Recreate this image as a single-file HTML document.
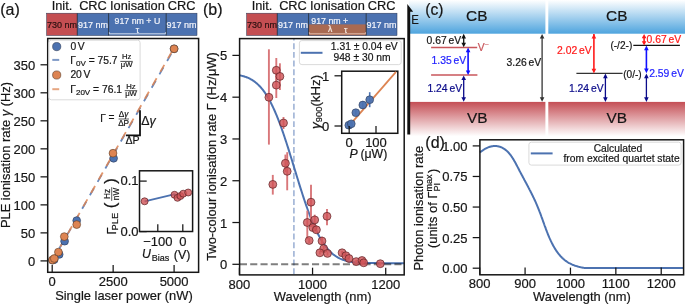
<!DOCTYPE html>
<html><head><meta charset="utf-8"><style>html,body{margin:0;padding:0;background:#fff;overflow:hidden}svg{display:block;will-change:transform}text{font-family:"Liberation Sans",sans-serif}</style></head>
<body><svg width="685" height="305" viewBox="0 0 685 305">
<rect width="685" height="305" fill="#fff"/>
<rect x="46.60" y="13.20" width="30.70" height="22.30" fill="#C44E52" />
<rect x="77.30" y="13.20" width="31.30" height="22.30" fill="#4C72B0" />
<rect x="108.60" y="13.20" width="57.60" height="22.30" fill="#4C72B0" />
<rect x="166.20" y="13.20" width="30.80" height="22.30" fill="#4C72B0" />
<line x1="77.30" y1="13.20" x2="77.30" y2="35.50" stroke="#1e2a3a" stroke-width="0.9" />
<line x1="108.60" y1="13.20" x2="108.60" y2="35.50" stroke="#1e2a3a" stroke-width="0.9" />
<line x1="166.20" y1="13.20" x2="166.20" y2="35.50" stroke="#1e2a3a" stroke-width="0.9" />
<rect x="46.60" y="13.2" width="150.40" height="22.3" fill="none" stroke="#2a3550" stroke-width="0.5"/>
<text x="62.00" y="10.10" font-size="12.8" text-anchor="middle" fill="#161616"  stroke="#161616" stroke-width="0.2">Init.</text>
<text x="93.00" y="10.10" font-size="12.8" text-anchor="middle" fill="#161616"  stroke="#161616" stroke-width="0.2">CRC</text>
<text x="137.40" y="10.10" font-size="12.8" text-anchor="middle" fill="#161616"  stroke="#161616" stroke-width="0.2">Ionisation</text>
<text x="181.60" y="10.10" font-size="12.8" text-anchor="middle" fill="#161616"  stroke="#161616" stroke-width="0.2">CRC</text>
<text x="62.00" y="27.80" font-size="9" text-anchor="middle" fill="#2a1010"  stroke="#2a1010" stroke-width="0.2">730 nm</text>
<text x="93.00" y="27.80" font-size="9" text-anchor="middle" fill="#f2f4fa"  stroke="#f2f4fa" stroke-width="0.2">917 nm</text>
<text x="181.60" y="27.80" font-size="9" text-anchor="middle" fill="#f2f4fa"  stroke="#f2f4fa" stroke-width="0.2">917 nm</text>
<text x="137.40" y="23.80" font-size="8.8" text-anchor="middle" fill="#f2f4fa"  stroke="#f2f4fa" stroke-width="0.2">917 nm + U</text>
<text x="137.40" y="32.90" font-size="8.6" text-anchor="middle" fill="#f2f4fa"  stroke="#f2f4fa" stroke-width="0.2">τ</text>
<line x1="109.20" y1="33.80" x2="165.60" y2="33.80" stroke="#dfe6f3" stroke-width="0.9" />
<line x1="109.40" y1="32.20" x2="109.40" y2="33.80" stroke="#dfe6f3" stroke-width="0.8" />
<line x1="165.40" y1="32.20" x2="165.40" y2="33.80" stroke="#dfe6f3" stroke-width="0.8" />
<rect x="246.60" y="13.20" width="30.70" height="22.30" fill="#C44E52" />
<rect x="277.30" y="13.20" width="31.30" height="22.30" fill="#4C72B0" />
<rect x="308.60" y="13.20" width="57.60" height="22.30" fill="#4C72B0" />
<rect x="366.20" y="13.20" width="30.80" height="22.30" fill="#4C72B0" />
<rect x="308.60" y="24.40" width="57.60" height="11.10" fill="#A96A52" />
<line x1="277.30" y1="13.20" x2="277.30" y2="35.50" stroke="#1e2a3a" stroke-width="0.9" />
<line x1="308.60" y1="13.20" x2="308.60" y2="35.50" stroke="#1e2a3a" stroke-width="0.9" />
<line x1="366.20" y1="13.20" x2="366.20" y2="35.50" stroke="#1e2a3a" stroke-width="0.9" />
<rect x="246.60" y="13.2" width="150.40" height="22.3" fill="none" stroke="#2a3550" stroke-width="0.5"/>
<text x="262.00" y="10.10" font-size="12.8" text-anchor="middle" fill="#161616"  stroke="#161616" stroke-width="0.2">Init.</text>
<text x="293.00" y="10.10" font-size="12.8" text-anchor="middle" fill="#161616"  stroke="#161616" stroke-width="0.2">CRC</text>
<text x="337.40" y="10.10" font-size="12.8" text-anchor="middle" fill="#161616"  stroke="#161616" stroke-width="0.2">Ionisation</text>
<text x="381.60" y="10.10" font-size="12.8" text-anchor="middle" fill="#161616"  stroke="#161616" stroke-width="0.2">CRC</text>
<text x="262.00" y="27.80" font-size="9" text-anchor="middle" fill="#2a1010"  stroke="#2a1010" stroke-width="0.2">730 nm</text>
<text x="293.00" y="27.80" font-size="9" text-anchor="middle" fill="#f2f4fa"  stroke="#f2f4fa" stroke-width="0.2">917 nm</text>
<text x="381.60" y="27.80" font-size="9" text-anchor="middle" fill="#f2f4fa"  stroke="#f2f4fa" stroke-width="0.2">917 nm</text>
<text x="329.80" y="23.80" font-size="8.8" text-anchor="middle" fill="#f2f4fa"  stroke="#f2f4fa" stroke-width="0.2">917 nm +</text>
<text x="330.20" y="31.60" font-size="8.5" text-anchor="middle" fill="#f7ece6"  stroke="#f7ece6" stroke-width="0.2">λ</text>
<text x="345.80" y="33.00" font-size="8.6" text-anchor="middle" fill="#f7ece6"  stroke="#f7ece6" stroke-width="0.2">τ</text>
<line x1="309.20" y1="33.80" x2="365.60" y2="33.80" stroke="#e8c3b3" stroke-width="0.9" />
<line x1="309.40" y1="32.20" x2="309.40" y2="33.80" stroke="#e8c3b3" stroke-width="0.8" />
<line x1="365.40" y1="32.20" x2="365.40" y2="33.80" stroke="#e8c3b3" stroke-width="0.8" />
<text x="0.20" y="14.60" font-size="16" text-anchor="start" fill="#161616"  stroke="#161616" stroke-width="0.2">(a)</text>
<line x1="52.20" y1="260.90" x2="174.10" y2="48.83" stroke="#4C72B0" stroke-width="1.8" stroke-dasharray="8.1 7.4" stroke-dashoffset="1.85" stroke-opacity="0.85"/>
<line x1="52.20" y1="260.90" x2="174.10" y2="47.71" stroke="#DD8452" stroke-width="1.8" stroke-dasharray="8.1 7.4" stroke-dashoffset="-0.75" stroke-opacity="0.85"/>
<circle cx="52.60" cy="260.20" r="3.9" fill="#4C72B0" stroke="#2d3b55" stroke-width="0.6" />
<circle cx="54.20" cy="259.60" r="3.9" fill="#4C72B0" stroke="#2d3b55" stroke-width="0.6" />
<circle cx="59.20" cy="254.40" r="3.9" fill="#4C72B0" stroke="#2d3b55" stroke-width="0.6" />
<circle cx="64.60" cy="241.20" r="3.9" fill="#4C72B0" stroke="#2d3b55" stroke-width="0.6" />
<circle cx="76.70" cy="220.60" r="3.9" fill="#4C72B0" stroke="#2d3b55" stroke-width="0.6" />
<circle cx="113.60" cy="158.30" r="3.9" fill="#4C72B0" stroke="#2d3b55" stroke-width="0.6" />
<circle cx="174.10" cy="48.80" r="3.9" fill="#4C72B0" stroke="#2d3b55" stroke-width="0.6" />
<circle cx="52.40" cy="260.00" r="3.9" fill="#DD8452" stroke="#5a3a25" stroke-width="0.6" />
<circle cx="54.30" cy="258.50" r="3.9" fill="#DD8452" stroke="#5a3a25" stroke-width="0.6" />
<circle cx="58.40" cy="252.10" r="3.9" fill="#DD8452" stroke="#5a3a25" stroke-width="0.6" />
<circle cx="64.30" cy="236.60" r="3.9" fill="#DD8452" stroke="#5a3a25" stroke-width="0.6" />
<circle cx="76.70" cy="224.60" r="3.9" fill="#DD8452" stroke="#5a3a25" stroke-width="0.6" />
<circle cx="113.00" cy="153.20" r="3.9" fill="#DD8452" stroke="#5a3a25" stroke-width="0.6" />
<circle cx="174.10" cy="48.80" r="3.9" fill="#DD8452" stroke="#5a3a25" stroke-width="0.6" />
<polyline points="140,110.2 140,135.3 126.0,135.3" fill="none" stroke="#111" stroke-width="1.8"/>
<text x="141.30" y="125.20" font-size="12.3" text-anchor="start" fill="#161616"  stroke="#161616" stroke-width="0.2">Δ<tspan font-style="italic">γ</tspan></text>
<text x="125.40" y="144.00" font-size="10.6" text-anchor="start" fill="#161616"  stroke="#161616" stroke-width="0.2">ΔP</text>
<text x="100.30" y="121.60" font-size="10.2" text-anchor="start" fill="#161616"  stroke="#161616" stroke-width="0.2">Γ</text>
<text x="108.40" y="121.40" font-size="10.2" text-anchor="start" fill="#161616"  stroke="#161616" stroke-width="0.2">=</text>
<text x="123.60" y="116.90" font-size="8.2" text-anchor="middle" fill="#161616"  stroke="#161616" stroke-width="0.2">Δ<tspan font-style="italic">γ</tspan></text>
<line x1="118.60" y1="119.00" x2="129.00" y2="119.00" stroke="#161616" stroke-width="0.7" />
<text x="123.60" y="125.70" font-size="8.2" text-anchor="middle" fill="#161616"  stroke="#161616" stroke-width="0.2">ΔP</text>
<rect x="47.7" y="38.5" width="150.89999999999998" height="233.8" fill="none" stroke="#161616" stroke-width="1.5"/>
<line x1="40.50" y1="260.90" x2="47.70" y2="260.90" stroke="#161616" stroke-width="1.25" />
<text x="35.30" y="265.90" font-size="13" text-anchor="end" fill="#161616"  stroke="#161616" stroke-width="0.2">0</text>
<line x1="40.50" y1="232.88" x2="47.70" y2="232.88" stroke="#161616" stroke-width="1.25" />
<text x="35.30" y="237.88" font-size="13" text-anchor="end" fill="#161616"  stroke="#161616" stroke-width="0.2">50</text>
<line x1="40.50" y1="204.87" x2="47.70" y2="204.87" stroke="#161616" stroke-width="1.25" />
<text x="35.30" y="209.87" font-size="13" text-anchor="end" fill="#161616"  stroke="#161616" stroke-width="0.2">100</text>
<line x1="40.50" y1="176.85" x2="47.70" y2="176.85" stroke="#161616" stroke-width="1.25" />
<text x="35.30" y="181.85" font-size="13" text-anchor="end" fill="#161616"  stroke="#161616" stroke-width="0.2">150</text>
<line x1="40.50" y1="148.84" x2="47.70" y2="148.84" stroke="#161616" stroke-width="1.25" />
<text x="35.30" y="153.84" font-size="13" text-anchor="end" fill="#161616"  stroke="#161616" stroke-width="0.2">200</text>
<line x1="40.50" y1="120.82" x2="47.70" y2="120.82" stroke="#161616" stroke-width="1.25" />
<text x="35.30" y="125.82" font-size="13" text-anchor="end" fill="#161616"  stroke="#161616" stroke-width="0.2">250</text>
<line x1="40.50" y1="92.81" x2="47.70" y2="92.81" stroke="#161616" stroke-width="1.25" />
<text x="35.30" y="97.81" font-size="13" text-anchor="end" fill="#161616"  stroke="#161616" stroke-width="0.2">300</text>
<line x1="40.50" y1="64.79" x2="47.70" y2="64.79" stroke="#161616" stroke-width="1.25" />
<text x="35.30" y="69.79" font-size="13" text-anchor="end" fill="#161616"  stroke="#161616" stroke-width="0.2">350</text>
<line x1="52.20" y1="272.30" x2="52.20" y2="265.10" stroke="#161616" stroke-width="1.25" />
<text x="52.20" y="285.90" font-size="13" text-anchor="middle" fill="#161616"  stroke="#161616" stroke-width="0.2">0</text>
<line x1="113.15" y1="272.30" x2="113.15" y2="265.10" stroke="#161616" stroke-width="1.25" />
<text x="113.15" y="285.90" font-size="13" text-anchor="middle" fill="#161616"  stroke="#161616" stroke-width="0.2">2500</text>
<line x1="174.10" y1="272.30" x2="174.10" y2="265.10" stroke="#161616" stroke-width="1.25" />
<text x="174.10" y="285.90" font-size="13" text-anchor="middle" fill="#161616"  stroke="#161616" stroke-width="0.2">5000</text>
<text x="123.95" y="299.80" font-size="12.9" text-anchor="middle" fill="#161616"  stroke="#161616" stroke-width="0.2">Single laser power (nW)</text>
<text transform="translate(9.6,155.0) rotate(-90)" font-size="12.9" text-anchor="middle" fill="#161616" stroke="#161616" stroke-width="0.2">PLE ionisation rate <tspan font-style="italic">γ</tspan> (Hz)</text>
<rect x="48.9" y="40.2" width="91.2" height="59.6" rx="2.5" fill="#fff" fill-opacity="0.85" stroke="#d6d6d6" stroke-width="0.9"/>
<circle cx="56.70" cy="46.60" r="4.1" fill="#4C72B0" stroke="#2d3b55" stroke-width="0.6" />
<text x="70.40" y="49.80" font-size="10.3" text-anchor="start" fill="#161616"  stroke="#161616" stroke-width="0.2">0<tspan dx="1.6">V</tspan></text>
<line x1="52.30" y1="59.90" x2="59.20" y2="59.90" stroke="#4C72B0" stroke-width="2" stroke-opacity="0.72"/>
<text x="70.30" y="63.60" font-size="10.3" text-anchor="start" fill="#161616"  stroke="#161616" stroke-width="0.2">Γ<tspan font-size="8" dy="2.2">0V</tspan><tspan dy="-2.2"> = 75.7</tspan></text>
<text x="126.60" y="59.20" font-size="7.7" text-anchor="middle" fill="#161616"  stroke="#161616" stroke-width="0.2">Hz</text>
<line x1="120.30" y1="61.40" x2="132.80" y2="61.40" stroke="#161616" stroke-width="0.75" />
<text x="126.60" y="66.70" font-size="7.7" text-anchor="middle" fill="#161616"  stroke="#161616" stroke-width="0.2">μW</text>
<circle cx="56.70" cy="75.00" r="4.1" fill="#DD8452" stroke="#5a3a25" stroke-width="0.6" />
<text x="70.40" y="78.40" font-size="10.3" text-anchor="start" fill="#161616"  stroke="#161616" stroke-width="0.2">20<tspan dx="1.6">V</tspan></text>
<line x1="52.30" y1="89.20" x2="59.20" y2="89.20" stroke="#DD8452" stroke-width="2" stroke-opacity="0.72"/>
<text x="70.30" y="92.90" font-size="10.3" text-anchor="start" fill="#161616"  stroke="#161616" stroke-width="0.2">Γ<tspan font-size="8" dy="2.2">20V</tspan><tspan dy="-2.2"> = 76.1</tspan></text>
<text x="131.00" y="88.50" font-size="7.7" text-anchor="middle" fill="#161616"  stroke="#161616" stroke-width="0.2">Hz</text>
<line x1="124.70" y1="90.70" x2="137.20" y2="90.70" stroke="#161616" stroke-width="0.75" />
<text x="131.00" y="96.00" font-size="7.7" text-anchor="middle" fill="#161616"  stroke="#161616" stroke-width="0.2">μW</text>
<rect x="139.5" y="170.8" width="53.099999999999994" height="60.69999999999999" fill="#fff" stroke="#161616" stroke-width="1.5"/>
<line x1="144.60" y1="201.30" x2="175.00" y2="194.20" stroke="#4C72B0" stroke-width="1.8" />
<circle cx="144.60" cy="201.30" r="3.5" fill="#cf5256" stroke="#5a2022" stroke-width="0.7" fill-opacity="0.8"/>
<circle cx="174.50" cy="194.80" r="3.5" fill="#cf5256" stroke="#5a2022" stroke-width="0.7" fill-opacity="0.8"/>
<circle cx="177.50" cy="197.80" r="3.5" fill="#cf5256" stroke="#5a2022" stroke-width="0.7" fill-opacity="0.8"/>
<circle cx="180.40" cy="196.00" r="3.5" fill="#cf5256" stroke="#5a2022" stroke-width="0.7" fill-opacity="0.8"/>
<circle cx="183.20" cy="193.70" r="3.5" fill="#cf5256" stroke="#5a2022" stroke-width="0.7" fill-opacity="0.8"/>
<circle cx="188.20" cy="192.50" r="3.5" fill="#cf5256" stroke="#5a2022" stroke-width="0.7" fill-opacity="0.8"/>
<line x1="139.50" y1="181.10" x2="146.70" y2="181.10" stroke="#161616" stroke-width="1.25" />
<text x="138.60" y="185.40" font-size="13" text-anchor="end" fill="#161616"  stroke="#161616" stroke-width="0.2">0.1</text>
<line x1="139.50" y1="231.60" x2="146.70" y2="231.60" stroke="#161616" stroke-width="1.25" />
<text x="138.60" y="235.90" font-size="13" text-anchor="end" fill="#161616"  stroke="#161616" stroke-width="0.2">0.0</text>
<line x1="157.80" y1="231.50" x2="157.80" y2="224.30" stroke="#161616" stroke-width="1.25" />
<text x="157.80" y="245.80" font-size="13" text-anchor="middle" fill="#161616"  stroke="#161616" stroke-width="0.2">−100</text>
<line x1="182.80" y1="231.50" x2="182.80" y2="224.30" stroke="#161616" stroke-width="1.25" />
<text x="182.80" y="245.80" font-size="13" text-anchor="middle" fill="#161616"  stroke="#161616" stroke-width="0.2">0</text>
<text x="142.00" y="257.80" font-size="12.3" text-anchor="start" fill="#161616" font-style="italic" stroke="#161616" stroke-width="0.2">U</text>
<text x="151.80" y="260.60" font-size="9" text-anchor="start" fill="#161616"  stroke="#161616" stroke-width="0.2">Bias</text>
<text x="173.80" y="258.50" font-size="12.3" text-anchor="start" fill="#161616" textLength="16.6" lengthAdjust="spacingAndGlyphs" stroke="#161616" stroke-width="0.2">(V)</text>
<text transform="translate(115.50,234.60) rotate(-90)" font-size="12.8" text-anchor="start" fill="#161616"  stroke="#161616" stroke-width="0.2">Γ</text>
<text transform="translate(118.00,230.50) rotate(-90)" font-size="9.0" text-anchor="start" fill="#161616" textLength="17.6" lengthAdjust="spacingAndGlyphs" stroke="#161616" stroke-width="0.2">PLE</text>
<text transform="translate(116.40,208.30) rotate(-90)" font-size="17" text-anchor="start" fill="#161616"  stroke="#161616" stroke-width="0.2">(</text>
<text transform="translate(116.40,178.20) rotate(-90)" font-size="17" text-anchor="end" fill="#161616"  stroke="#161616" stroke-width="0.2">)</text>
<text transform="translate(109.70,194.00) rotate(-90)" font-size="8.2" text-anchor="middle" fill="#161616"  stroke="#161616" stroke-width="0.2">Hz</text>
<line x1="111.70" y1="187.20" x2="111.70" y2="200.90" stroke="#161616" stroke-width="0.7" />
<text transform="translate(118.80,194.00) rotate(-90)" font-size="8.2" text-anchor="middle" fill="#161616"  stroke="#161616" stroke-width="0.2">nW</text>
<text x="203.00" y="14.80" font-size="16" text-anchor="start" fill="#161616"  stroke="#161616" stroke-width="0.2">(b)</text>
<line x1="293.90" y1="38.60" x2="293.90" y2="274.90" stroke="#9fb3d6" stroke-width="1.6" stroke-dasharray="5.9 2.75" stroke-dashoffset="3.95"/>
<path d="M239.40,75.27 L239.95,75.37 L240.50,75.49 L241.05,75.61 L241.60,75.74 L242.15,75.87 L242.70,76.02 L243.25,76.17 L243.80,76.33 L244.35,76.50 L244.91,76.67 L245.46,76.86 L246.01,77.05 L246.56,77.26 L247.11,77.47 L247.66,77.70 L248.21,77.94 L248.76,78.19 L249.31,78.45 L249.86,78.72 L250.41,79.01 L250.96,79.31 L251.51,79.63 L252.06,79.95 L252.61,80.30 L253.16,80.65 L253.71,81.03 L254.26,81.42 L254.81,81.82 L255.37,82.25 L255.92,82.69 L256.47,83.15 L257.02,83.62 L257.57,84.12 L258.12,84.63 L258.67,85.17 L259.22,85.72 L259.77,86.29 L260.32,86.89 L260.87,87.51 L261.42,88.15 L261.97,88.81 L262.52,89.49 L263.07,90.20 L263.62,90.93 L264.17,91.68 L264.72,92.45 L265.28,93.26 L265.83,94.08 L266.38,94.93 L266.93,95.81 L267.48,96.71 L268.03,97.63 L268.58,98.58 L269.13,99.56 L269.68,100.56 L270.23,101.59 L270.78,102.65 L271.33,103.73 L271.88,104.83 L272.43,105.97 L272.98,107.12 L273.53,108.31 L274.08,109.52 L274.63,110.75 L275.18,112.02 L275.74,113.30 L276.29,114.61 L276.84,115.95 L277.39,117.31 L277.94,118.70 L278.49,120.11 L279.04,121.54 L279.59,122.99 L280.14,124.47 L280.69,125.97 L281.24,127.49 L281.79,129.03 L282.34,130.60 L282.89,132.18 L283.44,133.78 L283.99,135.40 L284.54,137.03 L285.09,138.69 L285.64,140.35 L286.20,142.04 L286.75,143.74 L287.30,145.45 L287.85,147.17 L288.40,148.91 L288.95,150.66 L289.50,152.41 L290.05,154.18 L290.60,155.95 L291.15,157.74 L291.70,159.52 L292.25,161.31 L292.80,163.11 L293.35,164.91 L293.90,166.71 L294.45,168.51 L295.00,170.31 L295.55,172.11 L296.11,173.91 L296.66,175.71 L297.21,177.50 L297.76,179.29 L298.31,181.07 L298.86,182.84 L299.41,184.60 L299.96,186.36 L300.51,188.10 L301.06,189.84 L301.61,191.56 L302.16,193.27 L302.71,194.97 L303.26,196.65 L303.81,198.32 L304.36,199.97 L304.91,201.60 L305.46,203.22 L306.01,204.82 L306.57,206.40 L307.12,207.96 L307.67,209.49 L308.22,211.01 L308.77,212.51 L309.32,213.98 L309.87,215.44 L310.42,216.86 L310.97,218.27 L311.52,219.65 L312.07,221.01 L312.62,222.34 L313.17,223.65 L313.72,224.94 L314.27,226.19 L314.82,227.43 L315.37,228.63 L315.92,229.81 L316.47,230.97 L317.03,232.10 L317.58,233.20 L318.13,234.28 L318.68,235.33 L319.23,236.35 L319.78,237.35 L320.33,238.33 L320.88,239.27 L321.43,240.20 L321.98,241.09 L322.53,241.96 L323.08,242.81 L323.63,243.63 L324.18,244.43 L324.73,245.20 L325.28,245.95 L325.83,246.68 L326.38,247.38 L326.94,248.06 L327.49,248.72 L328.04,249.36 L328.59,249.97 L329.14,250.56 L329.69,251.14 L330.24,251.69 L330.79,252.22 L331.34,252.73 L331.89,253.22 L332.44,253.70 L332.99,254.15 L333.54,254.59 L334.09,255.01 L334.64,255.42 L335.19,255.80 L335.74,256.17 L336.29,256.53 L336.84,256.87 L337.40,257.20 L337.95,257.51 L338.50,257.81 L339.05,258.09 L339.60,258.37 L340.15,258.63 L340.70,258.87 L341.25,259.11 L341.80,259.33 L342.35,259.55 L342.90,259.75 L343.45,259.95 L344.00,260.13 L344.55,260.31 L345.10,260.47 L345.65,260.63 L346.20,260.78 L346.75,260.92 L347.30,261.06 L347.86,261.19 L348.41,261.31 L348.96,261.42 L349.51,261.53 L350.06,261.63 L350.61,261.73 L351.16,261.82 L351.71,261.90 L352.26,261.98 L352.81,262.06 L353.36,262.13 L353.91,262.20 L354.46,262.26 L355.01,262.32 L355.56,262.38 L356.11,262.43 L356.66,262.48 L357.21,262.53 L357.77,262.57 L358.32,262.61 L358.87,262.65 L359.42,262.68 L359.97,262.72 L360.52,262.75 L361.07,262.78 L361.62,262.80 L362.17,262.83 L362.72,262.85 L363.27,262.87 L363.82,262.90 L364.37,262.91 L364.92,262.93 L365.47,262.95 L366.02,262.96 L366.57,262.98 L367.12,262.99 L367.67,263.00 L368.23,263.01 L368.78,263.03 L369.33,263.03 L369.88,263.04 L370.43,263.05 L370.98,263.06 L371.53,263.07 L372.08,263.07 L372.63,263.08 L373.18,263.09 L373.73,263.09 L374.28,263.10 L374.83,263.10 L375.38,263.10 L375.93,263.11 L376.48,263.11 L377.03,263.11 L377.58,263.12 L378.13,263.12 L378.69,263.12 L379.24,263.12 L379.79,263.13 L380.34,263.13 L380.89,263.13 L381.44,263.13 L381.99,263.13 L382.54,263.13 L383.09,263.14 L383.64,263.14 L384.19,263.14 L384.74,263.14 L385.29,263.14 L385.84,263.14 L386.39,263.14 L386.94,263.14 L387.49,263.14 L388.04,263.14 L388.60,263.14 L389.15,263.14 L389.70,263.14 L390.25,263.14 L390.80,263.14 L391.35,263.14 L391.90,263.14 L392.45,263.14 L393.00,263.15 L393.55,263.15 L394.10,263.15 L394.65,263.15 L395.20,263.15 L395.75,263.15 L396.30,263.15 L396.85,263.15 L397.40,263.15 L397.95,263.15 L398.50,263.15 L399.06,263.15 L399.61,263.15 L400.16,263.15 L400.71,263.15 L401.26,263.15 L401.81,263.15 L402.36,263.15 L402.91,263.15 L403.46,263.15 L404.01,263.15" fill="none" stroke="#4C72B0" stroke-width="2"/>
<line x1="239.60" y1="264.30" x2="404.20" y2="264.30" stroke="#000" stroke-width="1.9" stroke-dasharray="7.1 3.2" stroke-dashoffset="-0.3" stroke-opacity="0.5"/>
<line x1="268.90" y1="49.30" x2="268.90" y2="144.60" stroke="#d9777a" stroke-width="1.9" />
<line x1="276.30" y1="58.00" x2="276.30" y2="83.00" stroke="#d9777a" stroke-width="1.9" />
<line x1="279.90" y1="63.30" x2="279.90" y2="90.00" stroke="#d9777a" stroke-width="1.9" />
<line x1="276.30" y1="72.50" x2="276.30" y2="98.00" stroke="#d9777a" stroke-width="1.9" />
<line x1="283.50" y1="117.00" x2="283.50" y2="129.00" stroke="#d9777a" stroke-width="1.9" />
<line x1="285.40" y1="154.60" x2="285.40" y2="172.00" stroke="#d9777a" stroke-width="1.9" />
<line x1="287.20" y1="152.20" x2="287.20" y2="190.30" stroke="#d9777a" stroke-width="1.9" />
<line x1="272.80" y1="174.90" x2="272.80" y2="194.60" stroke="#d9777a" stroke-width="1.9" />
<line x1="311.00" y1="184.80" x2="311.00" y2="227.00" stroke="#d9777a" stroke-width="1.9" />
<line x1="307.30" y1="210.60" x2="307.30" y2="239.30" stroke="#d9777a" stroke-width="1.9" />
<line x1="314.70" y1="214.70" x2="314.70" y2="225.50" stroke="#d9777a" stroke-width="1.9" />
<line x1="312.80" y1="224.00" x2="312.80" y2="231.00" stroke="#d9777a" stroke-width="1.9" />
<line x1="316.40" y1="226.00" x2="316.40" y2="233.00" stroke="#d9777a" stroke-width="1.9" />
<line x1="327.00" y1="208.90" x2="327.00" y2="225.30" stroke="#d9777a" stroke-width="1.9" />
<line x1="309.20" y1="238.00" x2="309.20" y2="243.00" stroke="#d9777a" stroke-width="1.9" />
<line x1="322.00" y1="236.80" x2="322.00" y2="245.00" stroke="#d9777a" stroke-width="1.9" />
<line x1="323.70" y1="246.00" x2="323.70" y2="251.00" stroke="#d9777a" stroke-width="1.9" />
<line x1="319.90" y1="251.00" x2="319.90" y2="254.50" stroke="#d9777a" stroke-width="1.9" />
<line x1="327.50" y1="251.50" x2="327.50" y2="255.50" stroke="#d9777a" stroke-width="1.9" />
<line x1="342.10" y1="251.00" x2="342.10" y2="254.50" stroke="#d9777a" stroke-width="1.9" />
<line x1="345.90" y1="254.00" x2="345.90" y2="257.50" stroke="#d9777a" stroke-width="1.9" />
<line x1="349.00" y1="257.00" x2="349.00" y2="260.00" stroke="#d9777a" stroke-width="1.9" />
<line x1="356.20" y1="260.00" x2="356.20" y2="263.00" stroke="#d9777a" stroke-width="1.9" />
<line x1="362.00" y1="259.00" x2="362.00" y2="262.00" stroke="#d9777a" stroke-width="1.9" />
<line x1="363.70" y1="261.00" x2="363.70" y2="264.50" stroke="#d9777a" stroke-width="1.9" />
<line x1="380.30" y1="262.00" x2="380.30" y2="265.50" stroke="#d9777a" stroke-width="1.9" />
<circle cx="268.90" cy="97.30" r="3.95" fill="#cf5458" stroke="#5e2427" stroke-width="0.7" fill-opacity="0.82"/>
<circle cx="276.30" cy="70.30" r="3.95" fill="#cf5458" stroke="#5e2427" stroke-width="0.7" fill-opacity="0.82"/>
<circle cx="279.90" cy="76.40" r="3.95" fill="#cf5458" stroke="#5e2427" stroke-width="0.7" fill-opacity="0.82"/>
<circle cx="276.30" cy="85.10" r="3.95" fill="#cf5458" stroke="#5e2427" stroke-width="0.7" fill-opacity="0.82"/>
<circle cx="283.50" cy="123.00" r="3.95" fill="#cf5458" stroke="#5e2427" stroke-width="0.7" fill-opacity="0.82"/>
<circle cx="285.40" cy="163.30" r="3.95" fill="#cf5458" stroke="#5e2427" stroke-width="0.7" fill-opacity="0.82"/>
<circle cx="287.20" cy="171.30" r="3.95" fill="#cf5458" stroke="#5e2427" stroke-width="0.7" fill-opacity="0.82"/>
<circle cx="272.80" cy="184.40" r="3.95" fill="#cf5458" stroke="#5e2427" stroke-width="0.7" fill-opacity="0.82"/>
<circle cx="311.00" cy="202.20" r="3.95" fill="#cf5458" stroke="#5e2427" stroke-width="0.7" fill-opacity="0.82"/>
<circle cx="307.30" cy="222.50" r="3.95" fill="#cf5458" stroke="#5e2427" stroke-width="0.7" fill-opacity="0.82"/>
<circle cx="314.70" cy="219.90" r="3.95" fill="#cf5458" stroke="#5e2427" stroke-width="0.7" fill-opacity="0.82"/>
<circle cx="312.80" cy="227.60" r="3.95" fill="#cf5458" stroke="#5e2427" stroke-width="0.7" fill-opacity="0.82"/>
<circle cx="316.40" cy="229.80" r="3.95" fill="#cf5458" stroke="#5e2427" stroke-width="0.7" fill-opacity="0.82"/>
<circle cx="327.00" cy="216.30" r="3.95" fill="#cf5458" stroke="#5e2427" stroke-width="0.7" fill-opacity="0.82"/>
<circle cx="309.20" cy="240.50" r="3.95" fill="#cf5458" stroke="#5e2427" stroke-width="0.7" fill-opacity="0.82"/>
<circle cx="322.00" cy="241.00" r="3.95" fill="#cf5458" stroke="#5e2427" stroke-width="0.7" fill-opacity="0.82"/>
<circle cx="323.70" cy="248.60" r="3.95" fill="#cf5458" stroke="#5e2427" stroke-width="0.7" fill-opacity="0.82"/>
<circle cx="319.90" cy="252.80" r="3.95" fill="#cf5458" stroke="#5e2427" stroke-width="0.7" fill-opacity="0.82"/>
<circle cx="327.50" cy="253.40" r="3.95" fill="#cf5458" stroke="#5e2427" stroke-width="0.7" fill-opacity="0.82"/>
<circle cx="342.10" cy="252.80" r="3.95" fill="#cf5458" stroke="#5e2427" stroke-width="0.7" fill-opacity="0.82"/>
<circle cx="345.90" cy="255.70" r="3.95" fill="#cf5458" stroke="#5e2427" stroke-width="0.7" fill-opacity="0.82"/>
<circle cx="349.00" cy="258.50" r="3.95" fill="#cf5458" stroke="#5e2427" stroke-width="0.7" fill-opacity="0.82"/>
<circle cx="356.20" cy="261.60" r="3.95" fill="#cf5458" stroke="#5e2427" stroke-width="0.7" fill-opacity="0.82"/>
<circle cx="362.00" cy="260.50" r="3.95" fill="#cf5458" stroke="#5e2427" stroke-width="0.7" fill-opacity="0.82"/>
<circle cx="363.70" cy="262.80" r="3.95" fill="#cf5458" stroke="#5e2427" stroke-width="0.7" fill-opacity="0.82"/>
<circle cx="380.30" cy="263.70" r="3.95" fill="#cf5458" stroke="#5e2427" stroke-width="0.7" fill-opacity="0.82"/>
<rect x="239.6" y="38.6" width="164.6" height="236.29999999999998" fill="none" stroke="#161616" stroke-width="1.5"/>
<line x1="232.40" y1="264.30" x2="239.60" y2="264.30" stroke="#161616" stroke-width="1.25" />
<text x="227.20" y="269.30" font-size="13" text-anchor="end" fill="#161616"  stroke="#161616" stroke-width="0.2">0</text>
<line x1="232.40" y1="222.52" x2="239.60" y2="222.52" stroke="#161616" stroke-width="1.25" />
<text x="227.20" y="227.52" font-size="13" text-anchor="end" fill="#161616"  stroke="#161616" stroke-width="0.2">1</text>
<line x1="232.40" y1="180.74" x2="239.60" y2="180.74" stroke="#161616" stroke-width="1.25" />
<text x="227.20" y="185.74" font-size="13" text-anchor="end" fill="#161616"  stroke="#161616" stroke-width="0.2">2</text>
<line x1="232.40" y1="138.96" x2="239.60" y2="138.96" stroke="#161616" stroke-width="1.25" />
<text x="227.20" y="143.96" font-size="13" text-anchor="end" fill="#161616"  stroke="#161616" stroke-width="0.2">3</text>
<line x1="232.40" y1="97.18" x2="239.60" y2="97.18" stroke="#161616" stroke-width="1.25" />
<text x="227.20" y="102.18" font-size="13" text-anchor="end" fill="#161616"  stroke="#161616" stroke-width="0.2">4</text>
<line x1="232.40" y1="55.40" x2="239.60" y2="55.40" stroke="#161616" stroke-width="1.25" />
<text x="227.20" y="60.40" font-size="13" text-anchor="end" fill="#161616"  stroke="#161616" stroke-width="0.2">5</text>
<line x1="239.40" y1="274.90" x2="239.40" y2="267.70" stroke="#161616" stroke-width="1.25" />
<text x="239.40" y="288.70" font-size="13" text-anchor="middle" fill="#161616"  stroke="#161616" stroke-width="0.2">800</text>
<line x1="312.56" y1="274.90" x2="312.56" y2="267.70" stroke="#161616" stroke-width="1.25" />
<text x="312.56" y="288.70" font-size="13" text-anchor="middle" fill="#161616"  stroke="#161616" stroke-width="0.2">1000</text>
<line x1="385.72" y1="274.90" x2="385.72" y2="267.70" stroke="#161616" stroke-width="1.25" />
<text x="385.72" y="288.70" font-size="13" text-anchor="middle" fill="#161616"  stroke="#161616" stroke-width="0.2">1200</text>
<text x="322.70" y="301.20" font-size="12.9" text-anchor="middle" fill="#161616"  stroke="#161616" stroke-width="0.2">Wavelength (nm)</text>
<text transform="translate(215.8,156.5) rotate(-90)" font-size="12.9" text-anchor="middle" fill="#161616" stroke="#161616" stroke-width="0.2">Two-colour ionisation rate Γ (Hz/μW)</text>
<rect x="299.4" y="40.6" width="101.8" height="24" rx="2.5" fill="#fff" fill-opacity="0.85" stroke="#d6d6d6" stroke-width="0.9"/>
<line x1="300.80" y1="52.80" x2="322.50" y2="52.80" stroke="#4C72B0" stroke-width="2" />
<text x="364.30" y="49.90" font-size="10.3" text-anchor="middle" fill="#161616"  stroke="#161616" stroke-width="0.2">1.31 ± 0.04 eV</text>
<text x="362.00" y="60.80" font-size="10.3" text-anchor="middle" fill="#161616"  stroke="#161616" stroke-width="0.2">948 ± 30 nm</text>
<rect x="341.7" y="71.2" width="56.10000000000002" height="62.10000000000001" fill="#fff" stroke="#161616" stroke-width="1.5"/>
<line x1="349.20" y1="125.70" x2="396.00" y2="71.80" stroke="#DD8452" stroke-width="1.8" />
<line x1="348.80" y1="122.20" x2="348.80" y2="128.20" stroke="#4C72B0" stroke-width="1.6" />
<line x1="351.30" y1="120.80" x2="351.30" y2="126.80" stroke="#4C72B0" stroke-width="1.6" />
<line x1="355.80" y1="109.70" x2="355.80" y2="115.70" stroke="#4C72B0" stroke-width="1.6" />
<line x1="362.80" y1="101.00" x2="362.80" y2="109.00" stroke="#4C72B0" stroke-width="1.6" />
<line x1="369.70" y1="92.20" x2="369.70" y2="107.20" stroke="#4C72B0" stroke-width="1.6" />
<circle cx="348.80" cy="125.20" r="3.9" fill="#4C72B0" stroke="#2d3b55" stroke-width="0.6" fill-opacity="0.95"/>
<circle cx="351.30" cy="123.80" r="3.9" fill="#4C72B0" stroke="#2d3b55" stroke-width="0.6" fill-opacity="0.95"/>
<circle cx="355.80" cy="112.70" r="3.9" fill="#4C72B0" stroke="#2d3b55" stroke-width="0.6" fill-opacity="0.95"/>
<circle cx="362.80" cy="105.00" r="3.9" fill="#4C72B0" stroke="#2d3b55" stroke-width="0.6" fill-opacity="0.95"/>
<circle cx="369.70" cy="99.70" r="3.9" fill="#4C72B0" stroke="#2d3b55" stroke-width="0.6" fill-opacity="0.95"/>
<line x1="334.50" y1="75.80" x2="341.70" y2="75.80" stroke="#161616" stroke-width="1.25" />
<text x="329.30" y="80.80" font-size="13" text-anchor="end" fill="#161616"  stroke="#161616" stroke-width="0.2">1</text>
<line x1="334.50" y1="126.00" x2="341.70" y2="126.00" stroke="#161616" stroke-width="1.25" />
<text x="329.30" y="131.00" font-size="13" text-anchor="end" fill="#161616"  stroke="#161616" stroke-width="0.2">0</text>
<line x1="349.20" y1="133.30" x2="349.20" y2="126.10" stroke="#161616" stroke-width="1.25" />
<text x="349.20" y="147.20" font-size="13" text-anchor="middle" fill="#161616"  stroke="#161616" stroke-width="0.2">0</text>
<line x1="376.00" y1="133.30" x2="376.00" y2="126.10" stroke="#161616" stroke-width="1.25" />
<text x="376.00" y="147.20" font-size="13" text-anchor="middle" fill="#161616"  stroke="#161616" stroke-width="0.2">100</text>
<text x="349.40" y="158.00" font-size="12.3" text-anchor="start" fill="#161616" font-style="italic" stroke="#161616" stroke-width="0.2">P</text>
<text x="360.40" y="158.00" font-size="12.3" text-anchor="start" fill="#161616"  stroke="#161616" stroke-width="0.2">(μW)</text>
<text transform="translate(319.9,128.9) rotate(-90)" font-size="13.3" fill="#161616" stroke="#161616" stroke-width="0.2"><tspan font-style="italic">γ</tspan><tspan font-size="9.4" dy="2.4">900</tspan><tspan dy="-2.4">(kHz)</tspan></text>
<defs><linearGradient id="cb" x1="0" y1="0" x2="0" y2="1"><stop offset="0" stop-color="#ffffff"/><stop offset="1" stop-color="#4ea4de"/></linearGradient><linearGradient id="vb" x1="0" y1="0" x2="0" y2="1"><stop offset="0" stop-color="#c44e55"/><stop offset="1" stop-color="#ffffff"/></linearGradient></defs>
<rect x="409.00" y="0.00" width="136.40" height="33.70" fill="url(#cb)" />
<rect x="548.30" y="0.00" width="136.70" height="33.70" fill="url(#cb)" />
<rect x="409.00" y="101.90" width="136.40" height="34.30" fill="url(#vb)" />
<rect x="548.30" y="101.90" width="136.70" height="34.30" fill="url(#vb)" />
<text x="476.80" y="20.60" font-size="15.4" text-anchor="middle" fill="#161616"  stroke="#161616" stroke-width="0.2">CB</text>
<text x="616.80" y="20.80" font-size="15.4" text-anchor="middle" fill="#161616"  stroke="#161616" stroke-width="0.2">CB</text>
<text x="477.20" y="123.30" font-size="15.4" text-anchor="middle" fill="#161616"  stroke="#161616" stroke-width="0.2">VB</text>
<text x="616.80" y="122.70" font-size="15.4" text-anchor="middle" fill="#161616"  stroke="#161616" stroke-width="0.2">VB</text>
<text x="425.30" y="15.10" font-size="15.6" text-anchor="start" fill="#161616"  stroke="#161616" stroke-width="0.2">(c)</text>
<path d="M407.3,134.4 L407.3,3.9 L413.2,11.8 L410.2,11.8 L410.2,134.4 Z" fill="#111"/>
<text transform="translate(411.2,23.6) scale(0.86,1)" font-size="13.3" fill="#161616" stroke="#161616" stroke-width="0.2">E</text>
<line x1="431.10" y1="47.40" x2="477.20" y2="47.40" stroke="#c8565b" stroke-width="1.5" />
<line x1="431.10" y1="75.10" x2="477.40" y2="75.10" stroke="#c8565b" stroke-width="1.5" />
<line x1="463.7" y1="37.48" x2="463.7" y2="43.62" stroke="#111" stroke-width="1.3"/>
<path d="M463.7,33.8 L461.4,38.4 L466.0,38.4 Z" fill="#111"/>
<path d="M463.7,47.3 L461.4,42.699999999999996 L466.0,42.699999999999996 Z" fill="#111"/>
<line x1="468.1" y1="51.28" x2="468.1" y2="71.32" stroke="#1010ff" stroke-width="1.6"/>
<path d="M468.1,47.6 L465.8,52.2 L470.40000000000003,52.2 Z" fill="#1010ff"/>
<path d="M468.1,75.0 L465.8,70.4 L470.40000000000003,70.4 Z" fill="#1010ff"/>
<line x1="463.7" y1="79.08000000000001" x2="463.7" y2="98.12" stroke="#0b0b8a" stroke-width="1.3"/>
<path d="M463.7,75.4 L461.4,80.0 L466.0,80.0 Z" fill="#0b0b8a"/>
<path d="M463.7,101.8 L461.4,97.2 L466.0,97.2 Z" fill="#0b0b8a"/>
<line x1="542.1" y1="37.58" x2="542.1" y2="98.12" stroke="#333" stroke-width="1.3"/>
<path d="M542.1,33.9 L539.8000000000001,38.5 L544.4,38.5 Z" fill="#333"/>
<path d="M542.1,101.8 L539.8000000000001,97.2 L544.4,97.2 Z" fill="#333"/>
<text x="426.60" y="43.80" font-size="10.35" text-anchor="start" fill="#161616"  stroke="#161616" stroke-width="0.2">0.67 <tspan dx="-1.0">eV</tspan></text>
<text x="477.80" y="50.90" font-size="10.3" text-anchor="start" fill="#c8565b"  stroke="#c8565b" stroke-width="0.2">V</text>
<text x="484.60" y="47.40" font-size="7.5" text-anchor="start" fill="#c8565b"  stroke="#c8565b" stroke-width="0.2">−</text>
<text x="431.60" y="63.80" font-size="10.35" text-anchor="start" fill="#1f1fff"  stroke="#1f1fff" stroke-width="0.2">1.35 <tspan dx="-1.0">eV</tspan></text>
<text x="427.40" y="91.50" font-size="10.35" text-anchor="start" fill="#0b0b8a"  stroke="#0b0b8a" stroke-width="0.2">1.24 <tspan dx="-1.0">eV</tspan></text>
<text x="506.60" y="66.00" font-size="10.35" text-anchor="start" fill="#161616"  stroke="#161616" stroke-width="0.2">3.26 <tspan dx="-1.0">eV</tspan></text>
<line x1="633.30" y1="45.40" x2="679.90" y2="45.40" stroke="#111" stroke-width="1.4" />
<line x1="576.40" y1="73.40" x2="622.60" y2="73.40" stroke="#333" stroke-width="1.4" />
<line x1="593.9" y1="34.0" x2="593.9" y2="69.72" stroke="#ff1a1a" stroke-width="1.6"/>
<path d="M593.9,73.4 L591.6,68.80000000000001 L596.1999999999999,68.80000000000001 Z" fill="#ff1a1a"/>
<path d="M593.9,34.0 L591.6,38.6 L596.2,38.6 Z" fill="#ff1a1a"/>
<line x1="644.1" y1="37.36" x2="644.1" y2="42.04" stroke="#ff1a1a" stroke-width="1.6"/>
<path d="M644.1,34.0 L641.8000000000001,38.2 L646.4,38.2 Z" fill="#ff1a1a"/>
<path d="M644.1,45.4 L641.8000000000001,41.199999999999996 L646.4,41.199999999999996 Z" fill="#ff1a1a"/>
<line x1="646.4" y1="49.28" x2="646.4" y2="69.52000000000001" stroke="#1010ff" stroke-width="1.6"/>
<path d="M646.4,45.6 L644.1,50.2 L648.6999999999999,50.2 Z" fill="#1010ff"/>
<path d="M646.4,73.2 L644.1,68.60000000000001 L648.6999999999999,68.60000000000001 Z" fill="#1010ff"/>
<line x1="646.4" y1="77.28" x2="646.4" y2="98.22" stroke="#0b0b8a" stroke-width="1.3"/>
<path d="M646.4,73.6 L644.1,78.19999999999999 L648.6999999999999,78.19999999999999 Z" fill="#0b0b8a"/>
<path d="M646.4,101.9 L644.1,97.30000000000001 L648.6999999999999,97.30000000000001 Z" fill="#0b0b8a"/>
<line x1="605.4" y1="77.28" x2="605.4" y2="98.22" stroke="#0b0b8a" stroke-width="1.3"/>
<path d="M605.4,73.6 L603.1,78.19999999999999 L607.6999999999999,78.19999999999999 Z" fill="#0b0b8a"/>
<path d="M605.4,101.9 L603.1,97.30000000000001 L607.6999999999999,97.30000000000001 Z" fill="#0b0b8a"/>
<text x="557.00" y="53.60" font-size="10.35" text-anchor="start" fill="#ff1a1a"  stroke="#ff1a1a" stroke-width="0.2">2.02 <tspan dx="-1.0">eV</tspan></text>
<text x="610.40" y="49.30" font-size="10.1" text-anchor="start" fill="#161616"  stroke="#161616" stroke-width="0.2">(-/2-)</text>
<text x="646.60" y="42.60" font-size="10.35" text-anchor="start" fill="#ff1a1a"  stroke="#ff1a1a" stroke-width="0.2">0.67 <tspan dx="-1.0">eV</tspan></text>
<text x="623.20" y="77.80" font-size="10.1" text-anchor="start" fill="#161616"  stroke="#161616" stroke-width="0.2">(0/-)</text>
<text x="649.20" y="76.80" font-size="10.35" text-anchor="start" fill="#1f1fff"  stroke="#1f1fff" stroke-width="0.2">2.59 <tspan dx="-1.0">eV</tspan></text>
<text x="568.90" y="91.70" font-size="10.35" text-anchor="start" fill="#0b0b8a"  stroke="#0b0b8a" stroke-width="0.2">1.24 <tspan dx="-1.0">eV</tspan></text>
<text x="425.30" y="148.40" font-size="16" text-anchor="start" fill="#161616"  stroke="#161616" stroke-width="0.2">(d)</text>
<path d="M479.99,152.53 L480.55,152.06 L481.11,151.60 L481.66,151.16 L482.22,150.74 L482.77,150.34 L483.32,149.96 L483.86,149.60 L484.41,149.26 L484.95,148.93 L485.49,148.63 L486.03,148.34 L486.57,148.07 L487.10,147.82 L487.63,147.58 L488.16,147.36 L488.69,147.16 L489.21,146.98 L489.73,146.81 L490.25,146.66 L490.76,146.53 L491.27,146.41 L491.78,146.30 L492.28,146.22 L492.79,146.14 L493.28,146.09 L493.78,146.05 L494.27,146.02 L494.76,146.01 L495.24,146.01 L495.72,146.03 L496.20,146.06 L496.67,146.10 L497.14,146.16 L497.61,146.23 L498.07,146.32 L498.53,146.42 L498.98,146.53 L499.43,146.65 L499.87,146.78 L500.31,146.93 L500.75,147.09 L501.18,147.26 L501.60,147.45 L502.03,147.64 L502.44,147.85 L502.85,148.07 L503.26,148.29 L503.66,148.53 L504.06,148.78 L504.45,149.04 L504.84,149.31 L505.22,149.59 L505.60,149.88 L505.97,150.18 L506.33,150.48 L506.69,150.80 L507.05,151.13 L507.40,151.46 L507.75,151.80 L508.09,152.15 L508.42,152.51 L508.75,152.87 L509.08,153.25 L509.40,153.63 L509.72,154.01 L510.04,154.41 L510.35,154.80 L510.65,155.21 L510.96,155.62 L511.25,156.04 L511.55,156.46 L511.84,156.89 L512.13,157.32 L512.42,157.76 L512.70,158.20 L512.98,158.65 L513.26,159.10 L513.53,159.55 L513.81,160.01 L514.08,160.47 L514.34,160.93 L514.61,161.40 L514.87,161.86 L515.13,162.34 L515.39,162.81 L515.65,163.28 L515.91,163.76 L516.16,164.24 L516.42,164.72 L516.67,165.20 L516.92,165.68 L517.17,166.16 L517.42,166.64 L517.67,167.12 L517.92,167.60 L518.17,168.08 L518.42,168.56 L518.66,169.04 L518.91,169.52 L519.16,169.99 L519.40,170.47 L519.65,170.94 L519.90,171.41 L520.14,171.88 L520.39,172.35 L520.64,172.82 L520.88,173.29 L521.13,173.75 L521.38,174.22 L521.62,174.68 L521.87,175.14 L522.12,175.60 L522.36,176.06 L522.61,176.52 L522.85,176.98 L523.10,177.44 L523.34,177.90 L523.59,178.36 L523.83,178.81 L524.08,179.27 L524.32,179.72 L524.56,180.18 L524.81,180.63 L525.05,181.08 L525.29,181.54 L525.53,181.99 L525.78,182.44 L526.02,182.89 L526.26,183.34 L526.50,183.79 L526.74,184.25 L526.98,184.70 L527.22,185.15 L527.46,185.60 L527.70,186.05 L527.93,186.50 L528.17,186.95 L528.41,187.40 L528.65,187.85 L528.88,188.31 L529.12,188.76 L529.35,189.21 L529.59,189.66 L529.82,190.12 L530.06,190.57 L530.29,191.02 L530.52,191.48 L530.75,191.93 L530.98,192.39 L531.21,192.84 L531.44,193.30 L531.67,193.76 L531.90,194.22 L532.13,194.68 L532.35,195.14 L532.58,195.60 L532.81,196.06 L533.03,196.52 L533.25,196.99 L533.48,197.45 L533.70,197.92 L533.92,198.38 L534.14,198.85 L534.36,199.32 L534.58,199.79 L534.80,200.27 L535.02,200.74 L535.23,201.21 L535.45,201.69 L535.67,202.17 L535.88,202.65 L536.09,203.13 L536.30,203.61 L536.52,204.10 L536.73,204.58 L536.94,205.07 L537.14,205.56 L537.35,206.05 L537.56,206.54 L537.76,207.04 L537.97,207.54 L538.17,208.04 L538.37,208.54 L538.57,209.04 L538.77,209.55 L538.97,210.05 L539.17,210.56 L539.37,211.07 L539.56,211.59 L539.76,212.10 L539.95,212.62 L540.15,213.14 L540.34,213.66 L540.54,214.18 L540.73,214.70 L540.92,215.22 L541.11,215.75 L541.30,216.27 L541.49,216.80 L541.69,217.32 L541.88,217.85 L542.07,218.38 L542.26,218.91 L542.45,219.44 L542.64,219.97 L542.83,220.51 L543.02,221.04 L543.21,221.57 L543.40,222.10 L543.59,222.64 L543.78,223.17 L543.97,223.70 L544.16,224.24 L544.36,224.77 L544.55,225.30 L544.74,225.84 L544.94,226.37 L545.13,226.90 L545.33,227.43 L545.52,227.97 L545.72,228.50 L545.92,229.03 L546.12,229.56 L546.32,230.09 L546.52,230.61 L546.72,231.14 L546.92,231.67 L547.13,232.19 L547.33,232.72 L547.54,233.24 L547.75,233.76 L547.96,234.28 L548.17,234.80 L548.38,235.32 L548.59,235.83 L548.81,236.35 L549.03,236.86 L549.24,237.37 L549.46,237.88 L549.69,238.38 L549.91,238.89 L550.14,239.39 L550.37,239.89 L550.59,240.39 L550.83,240.89 L551.06,241.38 L551.30,241.87 L551.54,242.36 L551.78,242.85 L552.02,243.33 L552.26,243.81 L552.51,244.29 L552.76,244.76 L553.01,245.23 L553.27,245.70 L553.53,246.17 L553.79,246.63 L554.05,247.09 L554.32,247.55 L554.59,248.00 L554.86,248.45 L555.13,248.90 L555.41,249.34 L555.69,249.78 L555.97,250.21 L556.26,250.64 L556.55,251.07 L556.84,251.49 L557.14,251.91 L557.44,252.33 L557.74,252.74 L558.05,253.15 L558.36,253.55 L558.67,253.95 L558.99,254.34 L559.31,254.73 L559.63,255.11 L559.96,255.49 L560.29,255.87 L560.63,256.24 L560.97,256.60 L561.31,256.96 L561.66,257.32 L562.01,257.67 L562.37,258.01 L562.73,258.35 L563.09,258.69 L563.46,259.02 L563.83,259.34 L564.21,259.66 L564.59,259.97 L564.97,260.28 L565.36,260.58 L565.76,260.87 L566.16,261.16 L566.56,261.44 L566.97,261.72 L567.38,261.99 L567.80,262.26 L568.23,262.52 L568.65,262.77 L569.09,263.01 L569.52,263.25 L569.97,263.49 L570.41,263.72 L570.86,263.94 L571.32,264.16 L571.77,264.37 L572.24,264.57 L572.70,264.77 L573.17,264.96 L573.65,265.15 L574.13,265.34 L574.61,265.51 L575.09,265.69 L575.58,265.85 L576.07,266.01 L576.57,266.17 L577.07,266.32 L577.57,266.47 L578.07,266.61 L578.58,266.75 L579.09,266.88 L579.61,267.01 L580.12,267.13 L580.64,267.25 L581.16,267.36 L581.68,267.47 L582.21,267.57 L582.74,267.67 L583.27,267.77 L583.80,267.86 L584.34,267.90 L584.87,267.90 L585.41,267.90 L585.95,267.90 L586.49,267.90 L587.04,267.90 L587.58,267.90 L588.13,267.90 L588.68,267.90 L589.22,267.90 L589.77,267.90 L590.33,267.90 L590.88,267.90 L591.43,267.90 L591.99,267.90 L592.54,267.90 L593.10,267.90 L593.65,267.90 L594.21,267.90 L594.76,267.90 L595.32,267.90 L595.88,267.90 L596.44,267.90 L597.00,267.90 L597.55,267.90 L598.11,267.90 L598.67,267.90 L599.23,267.90 L599.78,267.90 L600.34,267.90 L600.89,267.90 L601.45,267.90 L602.00,267.90 L602.56,267.90 L603.11,267.90 L603.66,267.90 L604.21,267.90 L604.76,267.90 L605.31,267.90 L605.86,267.90 L606.41,267.90 L606.95,267.90 L607.49,267.90 L608.04,267.90 L608.58,267.90 L609.11,267.90 L609.65,267.90 L610.18,267.90 L610.72,267.90 L611.25,267.90 L611.77,267.90 L612.30,267.90 L612.82,267.90 L613.34,267.90 L613.86,267.90 L614.38,267.90 L614.89,267.90 L683.60,267.90" fill="none" stroke="#4C72B0" stroke-width="2"/>
<rect x="479.9" y="139.8" width="203.70000000000005" height="135.0" fill="none" stroke="#161616" stroke-width="1.5"/>
<line x1="472.70" y1="145.90" x2="479.90" y2="145.90" stroke="#161616" stroke-width="1.25" />
<text x="467.50" y="150.90" font-size="13" text-anchor="end" fill="#161616"  stroke="#161616" stroke-width="0.2">1.00</text>
<line x1="472.70" y1="176.47" x2="479.90" y2="176.47" stroke="#161616" stroke-width="1.25" />
<text x="467.50" y="181.47" font-size="13" text-anchor="end" fill="#161616"  stroke="#161616" stroke-width="0.2">0.75</text>
<line x1="472.70" y1="207.05" x2="479.90" y2="207.05" stroke="#161616" stroke-width="1.25" />
<text x="467.50" y="212.05" font-size="13" text-anchor="end" fill="#161616"  stroke="#161616" stroke-width="0.2">0.50</text>
<line x1="472.70" y1="237.62" x2="479.90" y2="237.62" stroke="#161616" stroke-width="1.25" />
<text x="467.50" y="242.62" font-size="13" text-anchor="end" fill="#161616"  stroke="#161616" stroke-width="0.2">0.25</text>
<line x1="472.70" y1="268.20" x2="479.90" y2="268.20" stroke="#161616" stroke-width="1.25" />
<text x="467.50" y="273.20" font-size="13" text-anchor="end" fill="#161616"  stroke="#161616" stroke-width="0.2">0.00</text>
<line x1="479.70" y1="274.80" x2="479.70" y2="267.60" stroke="#161616" stroke-width="1.25" />
<text x="479.70" y="288.30" font-size="13" text-anchor="middle" fill="#161616"  stroke="#161616" stroke-width="0.2">800</text>
<line x1="525.08" y1="274.80" x2="525.08" y2="267.60" stroke="#161616" stroke-width="1.25" />
<text x="525.08" y="288.30" font-size="13" text-anchor="middle" fill="#161616"  stroke="#161616" stroke-width="0.2">900</text>
<line x1="570.46" y1="274.80" x2="570.46" y2="267.60" stroke="#161616" stroke-width="1.25" />
<text x="570.46" y="288.30" font-size="13" text-anchor="middle" fill="#161616"  stroke="#161616" stroke-width="0.2">1000</text>
<line x1="615.84" y1="274.80" x2="615.84" y2="267.60" stroke="#161616" stroke-width="1.25" />
<text x="615.84" y="288.30" font-size="13" text-anchor="middle" fill="#161616"  stroke="#161616" stroke-width="0.2">1100</text>
<line x1="661.22" y1="274.80" x2="661.22" y2="267.60" stroke="#161616" stroke-width="1.25" />
<text x="661.22" y="288.30" font-size="13" text-anchor="middle" fill="#161616"  stroke="#161616" stroke-width="0.2">1200</text>
<text x="581.95" y="301.00" font-size="12.9" text-anchor="middle" fill="#161616"  stroke="#161616" stroke-width="0.2">Wavelength (nm)</text>
<text transform="translate(422.8,208.2) rotate(-90)" font-size="12.9" text-anchor="middle" fill="#161616" stroke="#161616" stroke-width="0.2">Photon ionisation rate</text>
<text transform="translate(437.0,208.4) rotate(-90)" font-size="12.9" text-anchor="middle" fill="#161616" stroke="#161616" stroke-width="0.2">(units of Γ<tspan font-size="9" dy="3">PI</tspan><tspan font-size="9" dx="-8.6" dy="-8">max</tspan><tspan dx="1.5" dy="5">)</tspan></text>
<rect x="528.9" y="142.2" width="152.2" height="22.9" rx="2.5" fill="#fff" fill-opacity="0.85" stroke="#d6d6d6" stroke-width="0.9"/>
<line x1="530.80" y1="153.40" x2="552.60" y2="153.40" stroke="#4C72B0" stroke-width="2" />
<text x="618.00" y="151.80" font-size="10.3" text-anchor="middle" fill="#161616"  stroke="#161616" stroke-width="0.2">Calculated</text>
<text x="621.60" y="162.40" font-size="10.3" text-anchor="middle" fill="#161616"  stroke="#161616" stroke-width="0.2">from excited quartet state</text>
</svg></body></html>
